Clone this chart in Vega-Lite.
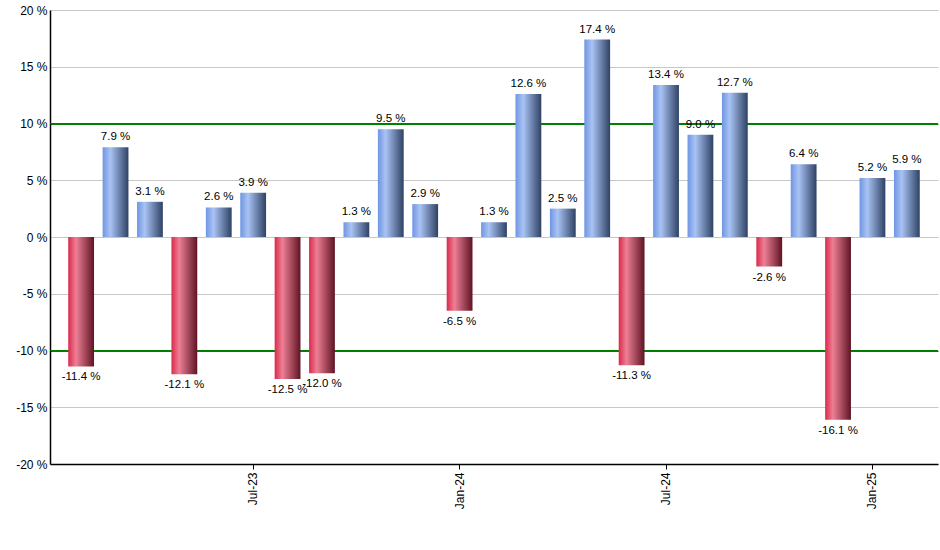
{
  "$schema": "https://vega.github.io/schema/vega-lite/v6.json",
  "width": 888,
  "height": 454,
  "autosize": {"type": "none"},
  "padding": {"left": 50, "top": 10, "right": 2, "bottom": 86},
  "background": "white",
  "config": {
    "view": {"stroke": null},
    "font": "Liberation Sans"
  },
  "data": {
    "values": [
      {"month": "Feb-23", "v": -11.4},
      {"month": "Mar-23", "v": 7.9},
      {"month": "Apr-23", "v": 3.1},
      {"month": "May-23", "v": -12.1},
      {"month": "Jun-23", "v": 2.6},
      {"month": "Jul-23", "v": 3.9},
      {"month": "Aug-23", "v": -12.5},
      {"month": "Sep-23", "v": -12.0},
      {"month": "Oct-23", "v": 1.3},
      {"month": "Nov-23", "v": 9.5},
      {"month": "Dec-23", "v": 2.9},
      {"month": "Jan-24", "v": -6.5},
      {"month": "Feb-24", "v": 1.3},
      {"month": "Mar-24", "v": 12.6},
      {"month": "Apr-24", "v": 2.5},
      {"month": "May-24", "v": 17.4},
      {"month": "Jun-24", "v": -11.3},
      {"month": "Jul-24", "v": 13.4},
      {"month": "Aug-24", "v": 9.0},
      {"month": "Sep-24", "v": 12.7},
      {"month": "Oct-24", "v": -2.6},
      {"month": "Nov-24", "v": 6.4},
      {"month": "Dec-24", "v": -16.1},
      {"month": "Jan-25", "v": 5.2},
      {"month": "Feb-25", "v": 5.9}
    ]
  },
  "encoding": {
    "x": {
      "field": "month",
      "type": "ordinal",
      "scale": {
        "domain": ["Feb-23","Mar-23","Apr-23","May-23","Jun-23","Jul-23","Aug-23","Sep-23","Oct-23","Nov-23","Dec-23","Jan-24","Feb-24","Mar-24","Apr-24","May-24","Jun-24","Jul-24","Aug-24","Sep-24","Oct-24","Nov-24","Dec-24","Jan-25","Feb-25"],
        "paddingInner": 0.25,
        "paddingOuter": 0.53
      },
      "axis": {
        "title": null,
        "labelAngle": -90,
        "labelAlign": "right",
        "labelBaseline": "middle",
        "labelFontSize": 12,
        "labelColor": "#000000",
        "labelPadding": 3,
        "labelExpr": "indexof(['Jul-23','Jan-24','Jul-24','Jan-25'], datum.value) >= 0 ? datum.value : ''",
        "tickOpacity": {"condition": {"test": "indexof(['Jul-23','Jan-24','Jul-24','Jan-25'], datum.value) >= 0", "value": 1}, "value": 0},
        "tickColor": "#000000",
        "tickSize": 5,
        "domainColor": "#000000",
        "domainWidth": 1.5,
        "grid": false
      }
    },
    "y": {
      "field": "v",
      "type": "quantitative",
      "scale": {"domain": [-20, 20], "nice": false},
      "axis": {
        "title": null,
        "values": [-20, -15, -10, -5, 0, 5, 10, 15, 20],
        "labelExpr": "datum.value + ' %'",
        "labelFontSize": 12,
        "labelColor": "#000000",
        "labelPadding": 3,
        "ticks": false,
        "domainColor": "#000000",
        "domainWidth": 1.5,
        "grid": true,
        "gridColor": {"condition": {"test": "abs(datum.value) == 10", "value": "#008000"}, "value": "#c8c8c8"},
        "gridWidth": 1
      }
    }
  },
  "layer": [
    {
      "data": {"values": [{"y": 10}, {"y": -10}]},
      "mark": {"type": "rule", "color": "#008000", "strokeWidth": 1},
      "encoding": {"x": null, "y": {"field": "y", "type": "quantitative"}}
    },
    {
      "transform": [{"filter": "datum.v >= 0"}],
      "mark": {
        "type": "bar",
        "color": {
          "gradient": "linear",
          "x1": 0, "y1": 0, "x2": 1, "y2": 0,
          "stops": [
            {"offset": 0, "color": "#6f95e3"},
            {"offset": 0.3, "color": "#a9c3f3"},
            {"offset": 1, "color": "#2f4265"}
          ]
        }
      },
      "encoding": {"y2": {"datum": 0}}
    },
    {
      "transform": [{"filter": "datum.v < 0"}],
      "mark": {
        "type": "bar",
        "color": {
          "gradient": "linear",
          "x1": 0, "y1": 0, "x2": 1, "y2": 0,
          "stops": [
            {"offset": 0, "color": "#d92a4a"},
            {"offset": 0.3, "color": "#ee7f95"},
            {"offset": 1, "color": "#5e1423"}
          ]
        }
      },
      "encoding": {"y2": {"datum": 0}}
    },
    {
      "transform": [{"filter": "datum.v >= 0"}],
      "mark": {
        "type": "text",
        "baseline": "bottom",
        "dy": -5,
        "fontSize": 11.5,
        "color": "#000000",
        "text": {"expr": "format(datum.v, '.1f') + ' %'"}
      }
    },
    {
      "transform": [{"filter": "datum.v < 0"}],
      "mark": {
        "type": "text",
        "baseline": "top",
        "dy": 5,
        "fontSize": 11.5,
        "color": "#000000",
        "text": {"expr": "'-' + format(abs(datum.v), '.1f') + ' %'"}
      }
    }
  ]
}
